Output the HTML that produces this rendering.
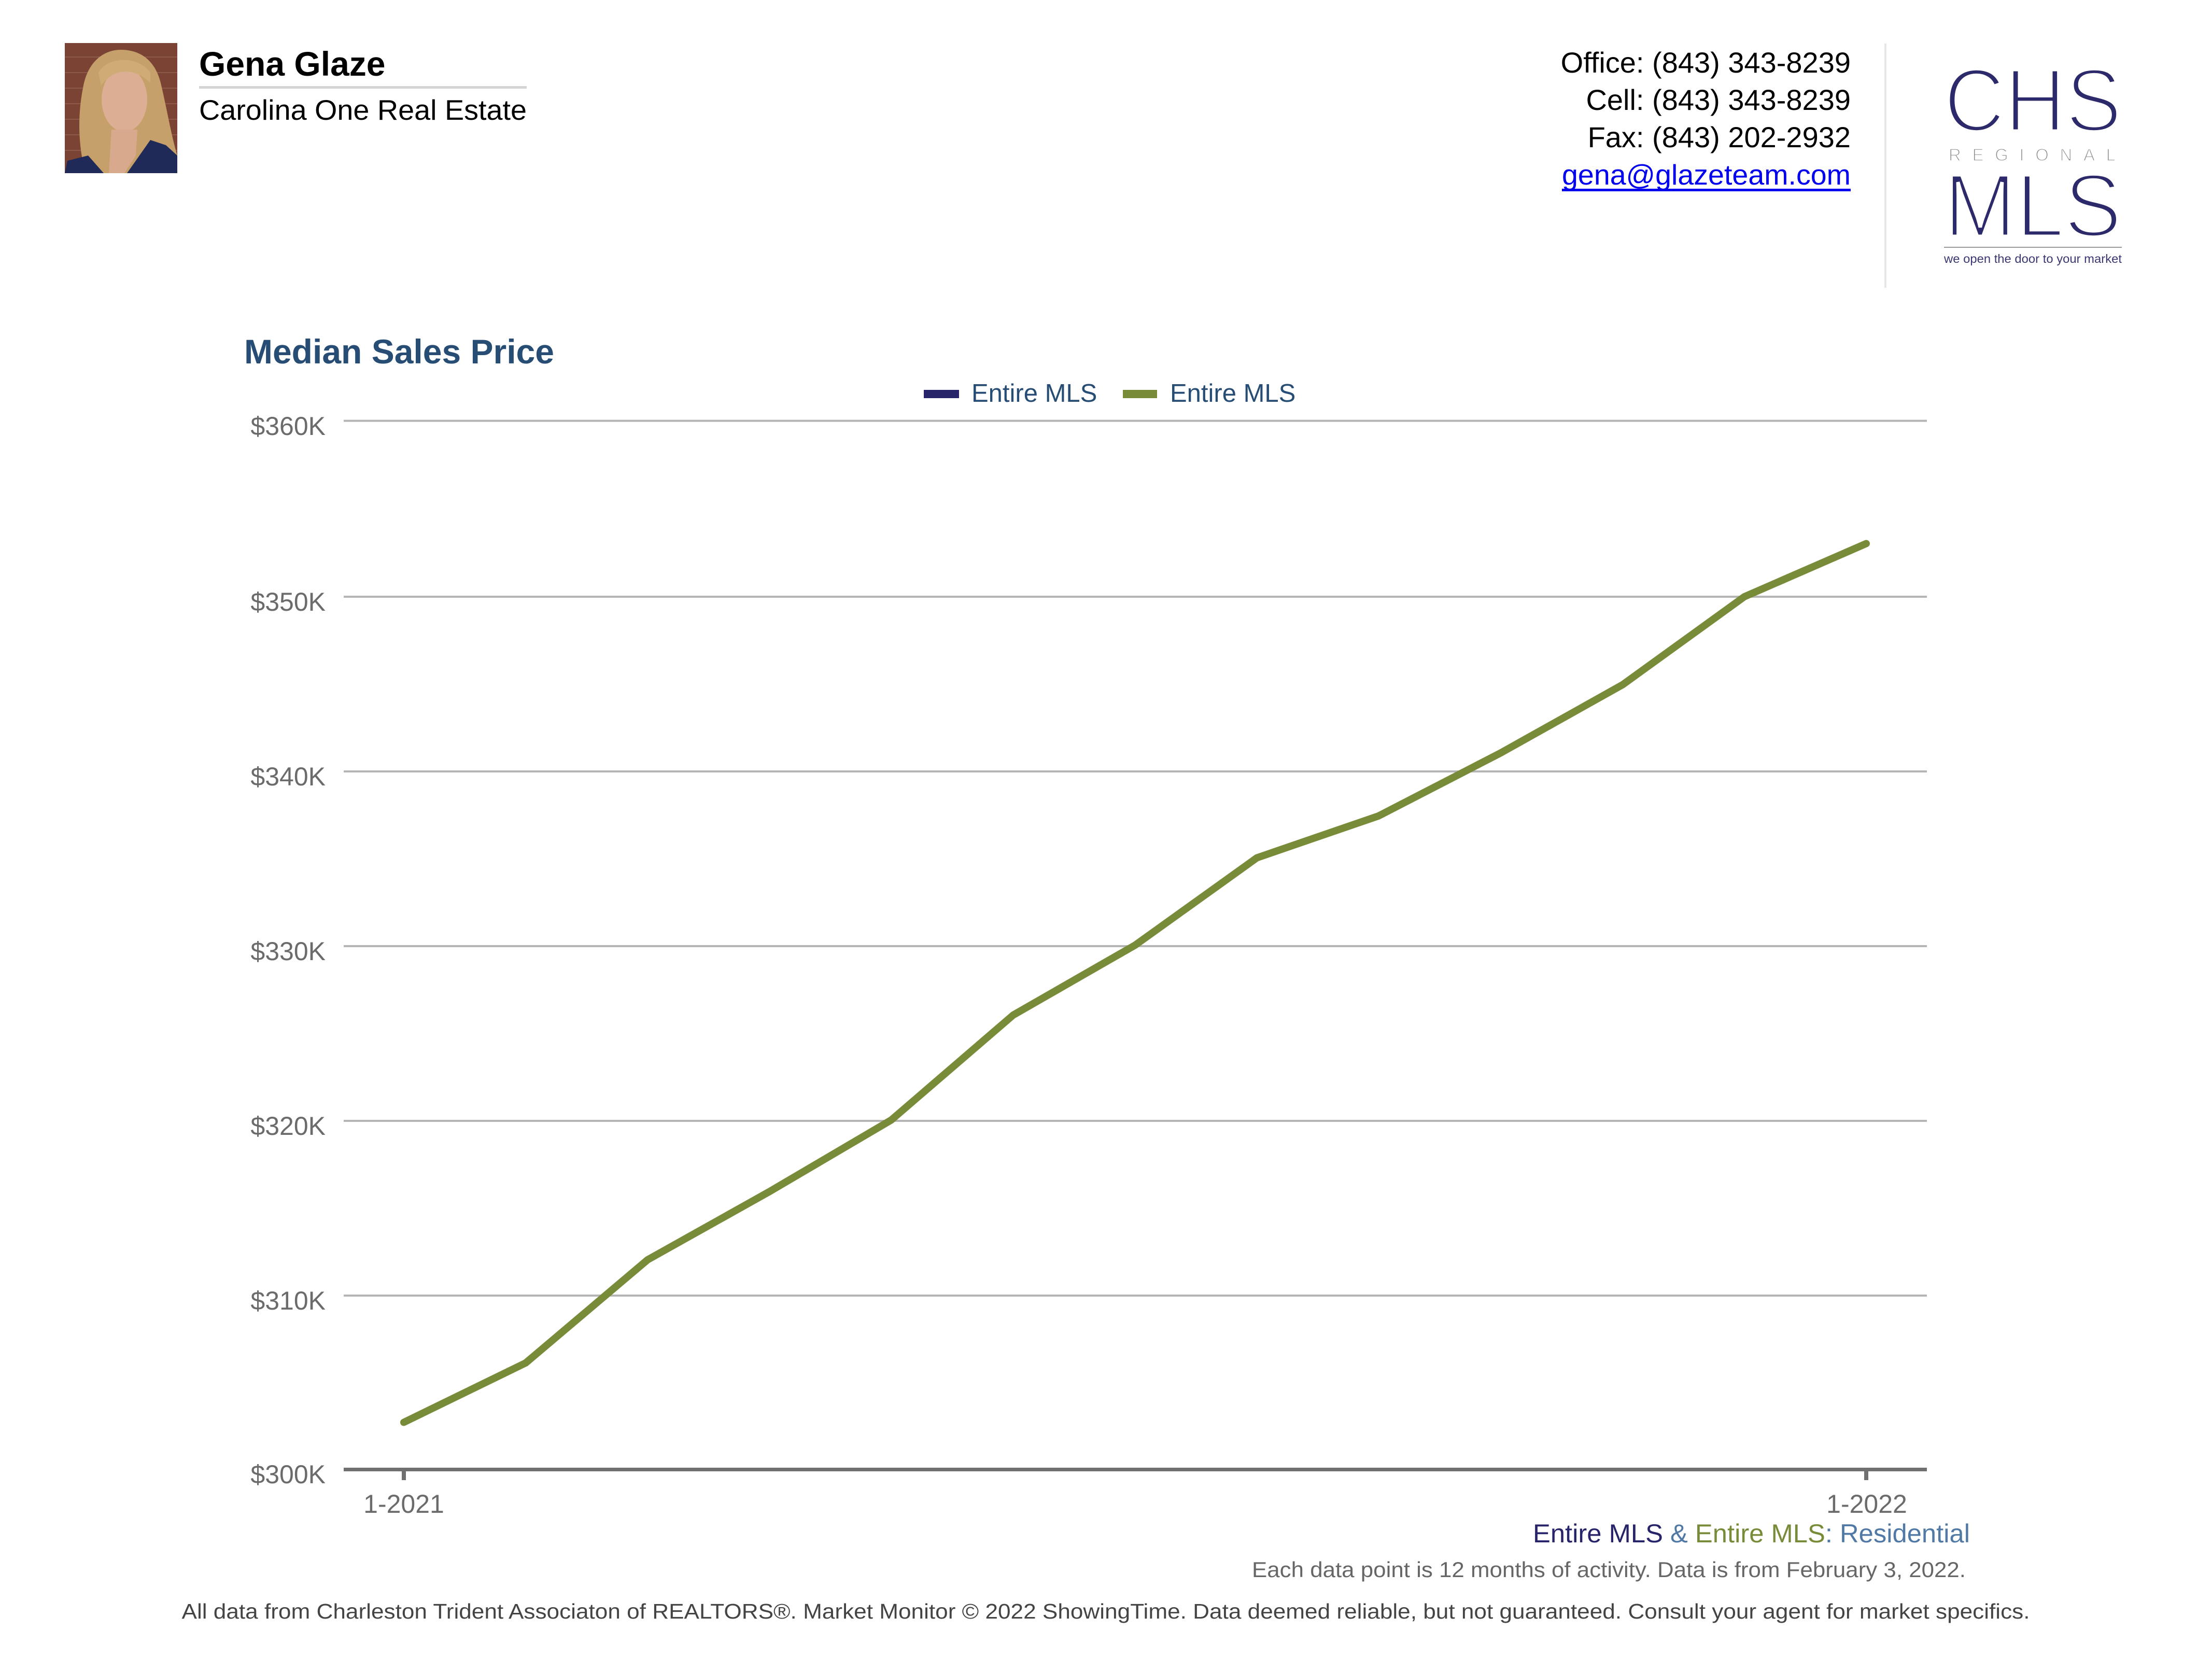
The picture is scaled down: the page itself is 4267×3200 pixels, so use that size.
<!DOCTYPE html>
<html>
<head>
<meta charset="utf-8">
<style>
html,body{margin:0;padding:0;background:#fff;}
svg{display:block;}
text{font-family:"Liberation Sans",Arial,sans-serif;}
</style>
</head>
<body>
<svg width="4267" height="3200" viewBox="0 0 4267 3200" xmlns="http://www.w3.org/2000/svg">
<rect width="4267" height="3200" fill="#fff"/>
<defs>
<clipPath id="ph"><rect x="125" y="83" width="217" height="251"/></clipPath>
</defs>
<!-- Photo -->
<g clip-path="url(#ph)">
<rect x="125" y="83" width="217" height="251" fill="#7a4334"/>
<g stroke="#9a6a58" stroke-width="2" opacity="0.6">
<line x1="125" y1="110" x2="342" y2="110"/><line x1="125" y1="140" x2="342" y2="140"/>
<line x1="125" y1="170" x2="342" y2="170"/><line x1="125" y1="200" x2="342" y2="200"/>
<line x1="125" y1="230" x2="342" y2="230"/><line x1="125" y1="260" x2="342" y2="260"/>
<line x1="125" y1="290" x2="342" y2="290"/>
</g>
<path d="M165 334 C150 280 150 220 160 170 C168 120 200 95 235 96 C275 97 300 120 310 160 C322 210 330 260 342 300 L342 334 Z" fill="#c6a06a"/>
<ellipse cx="240" cy="192" rx="44" ry="62" fill="#dcae93"/>
<path d="M190 140 C205 110 265 105 290 140 L290 160 C260 130 220 130 195 165 Z" fill="#cfab75"/>
<path d="M215 250 L265 250 L262 300 L240 334 L210 334 Z" fill="#d9a98e"/>
<path d="M125 334 L130 310 L170 300 L200 334 Z" fill="#1f2a58"/>
<path d="M245 334 L290 270 L320 280 L342 300 L342 334 Z" fill="#1f2a58"/>
</g>
<!-- Name block -->
<text x="384" y="146" font-size="66" font-weight="bold" fill="#000">Gena Glaze</text>
<rect x="384" y="166" width="632" height="5" fill="#d4d4d4"/>
<text x="384" y="231" font-size="55" fill="#000" textLength="632" lengthAdjust="spacingAndGlyphs">Carolina One Real Estate</text>
<!-- Contact -->
<text x="3570" y="140" font-size="56" fill="#000" text-anchor="end">Office: (843) 343-8239</text>
<text x="3570" y="212" font-size="56" fill="#000" text-anchor="end">Cell: (843) 343-8239</text>
<text x="3570" y="284" font-size="56" fill="#000" text-anchor="end">Fax: (843) 202-2932</text>
<text x="3013" y="356" font-size="55" fill="#0000ee" textLength="557" lengthAdjust="spacingAndGlyphs">gena@glazeteam.com</text>
<rect x="3013" y="364" width="557" height="5" fill="#0000ee"/>
<rect x="3635" y="84" width="4" height="471" fill="#e6e6e6"/>
<!-- Logo -->
<text x="3750" y="253" font-size="173" fill="#2d2a6b" stroke="#fff" stroke-width="7" textLength="343" lengthAdjust="spacingAndGlyphs">CHS</text>
<text x="3759" y="310" font-size="33" fill="#8a8a8a" stroke="#fff" stroke-width="1.5" textLength="322" lengthAdjust="spacing">REGIONAL</text>
<text x="3750" y="456" font-size="173" fill="#2d2a6b" stroke="#fff" stroke-width="7" textLength="343" lengthAdjust="spacingAndGlyphs">MLS</text>
<rect x="3750" y="476" width="343" height="2" fill="#9a9a9a"/>
<text x="3750" y="507" font-size="23" fill="#3a3870" textLength="343" lengthAdjust="spacingAndGlyphs">we open the door to your market</text>
<!-- Title -->
<text x="471" y="701" font-size="66" font-weight="bold" fill="#274d74">Median Sales Price</text>
<!-- Legend -->
<rect x="1782" y="752" width="68" height="16" fill="#27246a"/>
<text x="1874" y="775" font-size="49" fill="#274d74">Entire MLS</text>
<rect x="2166" y="752" width="66" height="16" fill="#778b39"/>
<text x="2257" y="775" font-size="49" fill="#274d74">Entire MLS</text>
<!-- Gridlines -->
<g fill="#b5b5b5">
<rect x="663" y="809.7" width="3054" height="4"/>
<rect x="663" y="1149" width="3054" height="4"/>
<rect x="663" y="1486" width="3054" height="4"/>
<rect x="663" y="1823" width="3054" height="4"/>
<rect x="663" y="2160" width="3054" height="4"/>
<rect x="663" y="2497" width="3054" height="4"/>
</g>
<!-- Axis -->
<rect x="663" y="2831" width="3054" height="7" fill="#707070"/>
<rect x="775" y="2831" width="8" height="24" fill="#707070"/>
<rect x="3596" y="2831" width="8" height="24" fill="#707070"/>
<!-- Y labels -->
<g font-size="50" fill="#6b6b6b" text-anchor="end">
<text x="628" y="839">$360K</text>
<text x="628" y="1178">$350K</text>
<text x="628" y="1515">$340K</text>
<text x="628" y="1852">$330K</text>
<text x="628" y="2189">$320K</text>
<text x="628" y="2526">$310K</text>
<text x="628" y="2861">$300K</text>
</g>
<!-- X labels -->
<g font-size="50" fill="#6b6b6b" text-anchor="middle">
<text x="779" y="2918">1-2021</text>
<text x="3601" y="2918">1-2022</text>
</g>
<!-- Series -->
<polyline fill="none" stroke="#778b39" stroke-width="14" stroke-linecap="round" stroke-linejoin="round"
points="779,2743.5 1014.1,2628.9 1249.2,2430 1484.2,2298.5 1719.3,2160.3 1954.4,1958 2189.5,1823.2 2424.6,1654.6 2659.6,1573.7 2894.7,1452.4 3129.8,1320.9 3364.9,1151 3600,1048.5"/>
<!-- Sub-legend -->
<text x="2957" y="2975" font-size="50" textLength="843" lengthAdjust="spacingAndGlyphs"><tspan fill="#27246a">Entire MLS</tspan><tspan fill="#5179a6"> &amp; </tspan><tspan fill="#778b39">Entire MLS</tspan><tspan fill="#5179a6">: Residential</tspan></text>
<text x="2415" y="3042" font-size="42" fill="#666" textLength="1377" lengthAdjust="spacingAndGlyphs">Each data point is 12 months of activity. Data is from February 3, 2022.</text>
<text x="2133" y="3122" font-size="41" fill="#444" text-anchor="middle" textLength="3565" lengthAdjust="spacingAndGlyphs">All data from Charleston Trident Associaton of REALTORS®. Market Monitor © 2022 ShowingTime. Data deemed reliable, but not guaranteed. Consult your agent for market specifics.</text>
</svg>
</body>
</html>
